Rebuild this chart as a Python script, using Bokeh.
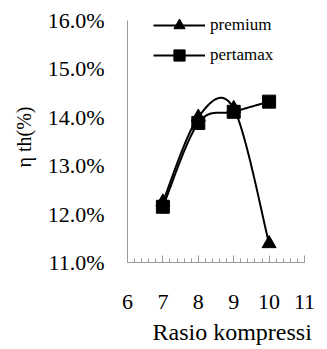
import numpy as np
from bokeh.plotting import figure
from bokeh.models import (FixedTicker, PrintfTickFormatter, Legend, LegendItem,
                          Title, Range1d)
from bokeh.embed import file_html
from bokeh.resources import INLINE

# Compression ratio vs. thermal efficiency (%)
ratio = [7, 8, 9, 10]
premium = [12.25, 14.0, 14.18, 11.39]
pertamax = [12.15, 13.88, 14.11, 14.32]
x_ticks = [6, 7, 8, 9, 10, 11]
y_ticks = [11, 12, 13, 14, 15, 16]

SERIF = "Liberation Serif"


def smooth(xs, ys, n=40):
    """Cubic Bezier curve passing through every point (Catmull-Rom control points)."""
    pts = np.column_stack([xs, ys]).astype(float)
    ext = np.vstack([pts[0], pts, pts[-1]])
    t = np.linspace(0.0, 1.0, n)[:, None]
    out = []
    for i in range(len(pts) - 1):
        p0, p1, p2, p3 = ext[i], ext[i + 1], ext[i + 2], ext[i + 3]
        c1 = p1 + (p2 - p0) / 6.0
        c2 = p2 - (p3 - p1) / 6.0
        seg = ((1 - t) ** 3) * p1 + 3 * ((1 - t) ** 2) * t * c1 \
            + 3 * (1 - t) * (t ** 2) * c2 + (t ** 3) * p2
        out.append(seg if i == 0 else seg[1:])
    arr = np.vstack(out)
    return arr[:, 0], arr[:, 1]


# the frame runs a little above 16% so the legend sits inside it;
# the y axis line itself stops at 16%
p = figure(width=327, height=349, x_range=Range1d(6, 11), y_range=Range1d(11, 16.18),
           output_backend="svg", toolbar_location=None,
           min_border_left=127, min_border_right=23, min_border_top=11,
           min_border_bottom=87)
p.grid.visible = False
p.outline_line_color = None
p.background_fill_color = "white"
p.border_fill_color = "white"

# x axis: ticks point inward, minor ticks every 0.2
xa = p.xaxis[0]
xa.ticker = FixedTicker(ticks=x_ticks,
                        minor_ticks=[round(v, 1) for v in np.arange(6, 11.001, 0.2)])
xa.axis_line_color = "#9a9a9a"
xa.major_tick_line_color = "#9a9a9a"
xa.minor_tick_line_color = "#9a9a9a"
xa.major_tick_in = 7
xa.major_tick_out = 0
xa.minor_tick_in = 4
xa.minor_tick_out = 0
xa.major_label_standoff = 32
xa.major_label_text_font = SERIF
xa.major_label_text_font_size = "22px"
xa.major_label_text_color = "black"

# y axis
ya = p.yaxis[0]
ya.ticker = FixedTicker(ticks=y_ticks)
ya.bounds = (11, 16)
ya.formatter = PrintfTickFormatter(format="%.1f%%")
ya.axis_line_color = "#9a9a9a"
ya.major_tick_line_color = None
ya.minor_tick_line_color = None
ya.major_tick_in = 0
ya.major_tick_out = 0
ya.minor_tick_in = 0
ya.minor_tick_out = 0
ya.major_label_standoff = 23
ya.major_label_text_font = SERIF
ya.major_label_text_font_size = "22px"
ya.major_label_text_color = "black"
ya.axis_label = "η th(%)"
ya.axis_label_text_font = SERIF
ya.axis_label_text_font_size = "20px"
ya.axis_label_text_font_style = "normal"
ya.axis_label_text_color = "black"
ya.axis_label_standoff = 10

p.add_layout(Title(text="Rasio kompressi", align="left", offset=25,
                   text_font=SERIF, text_font_size="24px",
                   text_font_style="normal", text_color="black"), "below")

sx, sy = smooth(ratio, premium)
l1 = p.line(sx, sy, line_color="black", line_width=2)
m1 = p.scatter(ratio, premium, marker="triangle", size=14, color="black")

tx, ty = smooth(ratio, pertamax)
l2 = p.line(tx, ty, line_color="black", line_width=2)
m2 = p.scatter(ratio, pertamax, marker="square", size=13, color="black")

legend = Legend(items=[LegendItem(label="premium", renderers=[l1, m1]),
                       LegendItem(label="pertamax", renderers=[l2, m2])],
                location=(26, 193), orientation="vertical",
                glyph_width=52, glyph_height=28, label_height=28,
                spacing=2, padding=0, margin=0, label_standoff=5,
                border_line_color=None, background_fill_alpha=0,
                label_text_font=SERIF, label_text_font_size="17px",
                label_text_color="black")
p.add_layout(legend, "center")

open("out.html", "w").write(file_html(p, INLINE))
